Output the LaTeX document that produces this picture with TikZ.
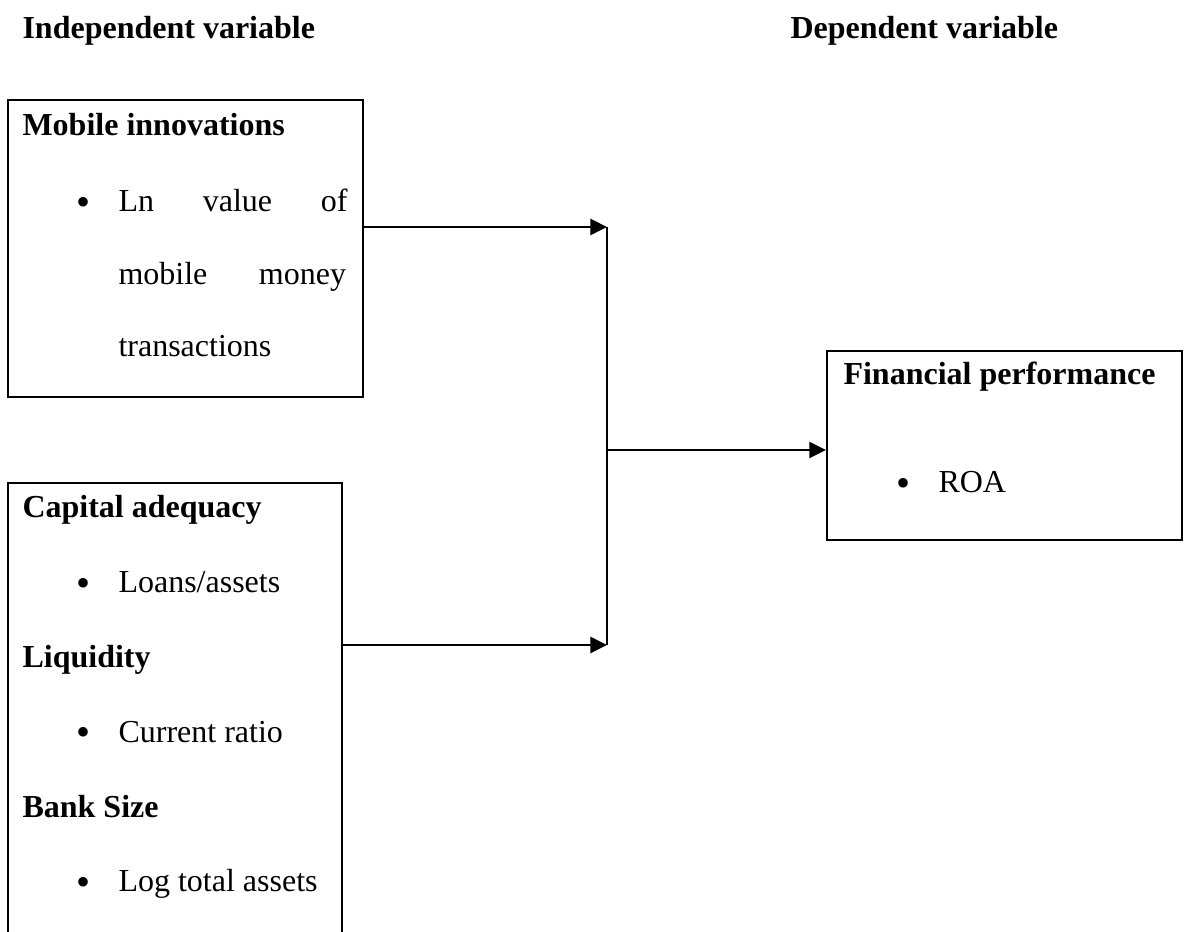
\documentclass[tikz,border=0pt]{standalone}
\usepackage{fontspec}
\setmainfont{Liberation Serif}
\usetikzlibrary{arrows.meta,fit}
\begin{document}
\begin{tikzpicture}[x=0.375pt,y=-0.375pt,
  txt/.style={anchor=base west,inner sep=0pt,font=\fontsize{12pt}{14pt}\selectfont},
  hd/.style={txt,font=\fontsize{12pt}{14pt}\selectfont\bfseries},
  bul/.style={anchor=base west,inner sep=0pt,font=\fontsize{15pt}{16pt}\selectfont},
  box/.style={draw,line width=0.8pt,inner sep=0pt},
  arr/.style={line width=0.8pt,-{Triangle[length=6.2pt,width=6pt]}},
  ln/.style={line width=0.8pt}]
\useasboundingbox (0,0) rectangle (1184,932);
\clip (0,0) rectangle (1184,932);
% headings
\node[hd] (hind) at (22,39) {Independent variable};
\node[hd] (hdep) at (790,39) {Dependent variable};
% box 1
\coordinate (b1tl) at (8,100);
\coordinate (b1br) at (363,397);
\node[box,fit=(b1tl)(b1br)] (b1) {};
\node[hd] (t1) at (22,136) {Mobile innovations};
\node[bul] (u1) at (76,216) {•};
\node[txt] (l1a) at (118,212) {\makebox[85.9pt][s]{Ln value of}};
\node[txt] (l1b) at (118,285) {\makebox[85.3pt][s]{mobile money}};
\node[txt] (l1c) at (118,357) {transactions};
% box 2
\coordinate (b2tl) at (8,483);
\coordinate (b2br) at (342,960);
\node[box,fit=(b2tl)(b2br)] (b2) {};
\node[hd] (t2) at (22,518) {Capital adequacy};
\node[bul] (u2) at (76,597) {•};
\node[txt] (l2) at (118,593) {Loans/assets};
\node[hd] (t3) at (22,668) {Liquidity};
\node[bul] (u3) at (76,746) {•};
\node[txt] (l3) at (118,742) {Current ratio};
\node[hd] (t4) at (22,817) {Bank Size};
\node[bul] (u4) at (76,895) {•};
\node[txt] (l4) at (118,891) {Log total assets};
% box 3
\coordinate (b3tl) at (827,351);
\coordinate (b3br) at (1182,540);
\node[box,fit=(b3tl)(b3br)] (b3) {};
\node[hd] (t5) at (843,385) {Financial performance};
\node[bul] (u5) at (896,497) {•};
\node[txt] (l5) at (938,493) {ROA};
% connectors
\coordinate (j1) at (607,227);
\coordinate (j2) at (607,645);
\coordinate (jm) at (607,450);
\draw[arr] (b1.east |- j1) -- (j1);
\draw[arr] (b2.east |- j2) -- (j2);
\draw[ln] (j1) -- (j2);
\draw[arr] (jm) -- (b3.west |- jm);
\end{tikzpicture}
\end{document}
